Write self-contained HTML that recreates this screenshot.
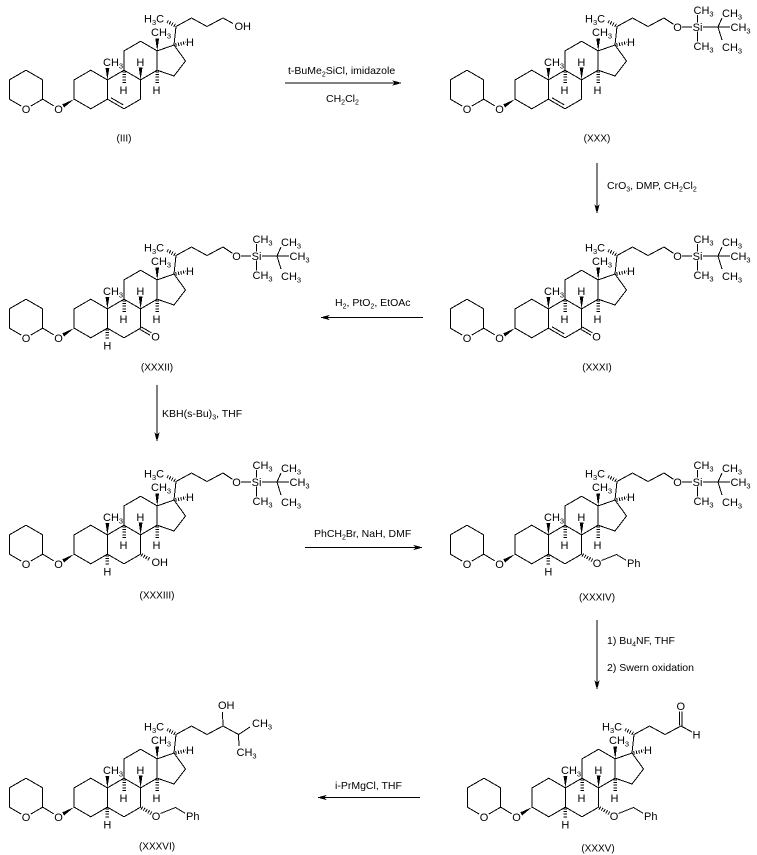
<!DOCTYPE html>
<html>
<head>
<meta charset="utf-8">
<style>
html,body{margin:0;padding:0;background:#fff;}
svg{display:block;}
text{font-family:"Liberation Sans",Arial,sans-serif;font-size:11px;fill:#000;}
text.lbl{font-size:10px;}
text.rg{font-size:10.5px;}
</style>
</head>
<body>
<svg width="757" height="855" viewBox="0 0 757 855" xmlns="http://www.w3.org/2000/svg" shape-rendering="crispEdges">
<defs>
  <g id="core">
    <g fill="none" stroke="#000" stroke-width="1">
      <polyline points="21.2,106.05 9.3,99.15 9.3,79.85 26,70.2 42.7,79.85 42.7,99.15 30.8,106.05"/>
      <line x1="42.7" y1="99.15" x2="53.8" y2="105.9"/>
      <polygon points="74.2,79.85 90.8,70.2 107.4,79.85 107.4,99.15 90.8,108.8 74.2,99.15"/>
      <polyline points="107.4,79.85 124,70.2 140.6,79.85 140.6,99.15 124,108.8 107.4,99.15"/>
      <polyline points="124,70.2 124,50.9 140.6,41.25 157.2,50.9 157.2,70.2 140.6,79.85"/>
      <polyline points="157.2,50.9 174,45 185.5,61 174,76 157.2,70.2"/>
      <polyline points="174,45 176,26.5 191.5,18 207,26.5 223,18"/>
    </g>
    <g fill="none" stroke="#000" stroke-width="3.5" stroke-dasharray="1 1.6">
      <line x1="175" y1="25.5" x2="166" y2="20.8"/>
      <line x1="175.5" y1="44.8" x2="186" y2="42.6"/>
      <line x1="124" y1="71.5" x2="124" y2="84.5"/>
      <line x1="157.2" y1="71.5" x2="157.2" y2="84.5"/>
    </g>
    <g fill="#000" stroke="none">
      <polygon points="74.2,99.15 64.14,107.43 62.26,104.37"/>
      <polygon points="107.4,79.85 105.5,68 109.3,68"/>
      <polygon points="157.2,50.9 155.3,38.5 159.1,38.5"/>
      <polygon points="140.6,79.85 138.7,67.5 142.5,67.5"/>
    </g>
  </g>
  <g id="tbsl" fill="none" stroke="#000" stroke-width="1">
    <line x1="223" y1="18" x2="232.3" y2="24.2"/>
    <line x1="241" y1="27" x2="251" y2="27"/>
    <line x1="256.5" y1="22.5" x2="256.5" y2="15"/>
    <line x1="256.5" y1="31.5" x2="256.5" y2="41.5"/>
    <line x1="262" y1="27" x2="289" y2="27"/>
    <line x1="277" y1="27" x2="281" y2="18"/>
    <line x1="277" y1="27" x2="281" y2="40"/>
  </g>
  <g id="d5" fill="none" stroke="#000" stroke-width="1">
    <line x1="111.06" y1="97.81" x2="123.34" y2="104.94"/>
  </g>
  <g id="keto" fill="none" stroke="#000" stroke-width="1">
    <line x1="141.3" y1="97.95" x2="151.4" y2="103.8"/>
    <line x1="139.9" y1="100.35" x2="150" y2="106.2"/>
  </g>
  <g id="h5a" fill="none" stroke="#000" stroke-width="3.5" stroke-dasharray="1 1.6">
    <line x1="107.4" y1="100.5" x2="107.4" y2="111"/>
  </g>
  <g id="obn">
    <line x1="141.5" y1="99.7" x2="151.5" y2="105.4" fill="none" stroke="#000" stroke-width="3.5" stroke-dasharray="1 1.6"/>
    <polyline points="160.5,105.5 175.5,99.5 185,105.2" fill="none" stroke="#000" stroke-width="1"/>
  </g>
</defs>

<!-- ===== (III) ===== -->
<g transform="translate(0,0)">
  <use href="#core"/>
  <use href="#d5"/>
  <line x1="223" y1="18" x2="233" y2="23.5" stroke="#000" stroke-width="1"/>
  <text x="26" y="112.8" text-anchor="middle">O</text>
  <text x="58.5" y="112.8" text-anchor="middle">O</text>
  <text x="103" y="66">CH<tspan font-size="7.5" dy="2.5">3</tspan></text>
  <text x="123.5" y="94" text-anchor="middle">H</text>
  <text x="140.4" y="66" text-anchor="middle">H</text>
  <text x="156.5" y="94" text-anchor="middle">H</text>
  <text x="151" y="36">CH<tspan font-size="7.5" dy="2.5">3</tspan></text>
  <text x="190" y="46" text-anchor="middle">H</text>
  <text x="144" y="22.5">H<tspan font-size="7.5" dy="2.5">3</tspan><tspan dy="-2.5">C</tspan></text>
  <text x="234.5" y="30">OH</text>
</g>
<text class="lbl" x="124" y="141.6" text-anchor="middle">(III)</text>

<!-- ===== (XXX) ===== -->
<g transform="translate(441,0)">
  <use href="#core"/>
  <use href="#d5"/>
  <use href="#tbsl"/>
  <text x="26" y="112.8" text-anchor="middle">O</text>
  <text x="58.5" y="112.8" text-anchor="middle">O</text>
  <text x="103" y="66">CH<tspan font-size="7.5" dy="2.5">3</tspan></text>
  <text x="123.5" y="94" text-anchor="middle">H</text>
  <text x="140.4" y="66" text-anchor="middle">H</text>
  <text x="156.5" y="94" text-anchor="middle">H</text>
  <text x="151" y="36">CH<tspan font-size="7.5" dy="2.5">3</tspan></text>
  <text x="190" y="46" text-anchor="middle">H</text>
  <text x="144" y="22.5">H<tspan font-size="7.5" dy="2.5">3</tspan><tspan dy="-2.5">C</tspan></text>
  <text x="236.5" y="31" text-anchor="middle">O</text>
  <text x="256.5" y="31" text-anchor="middle">Si</text>
  <text x="252.5" y="14">CH<tspan font-size="7.5" dy="2.5">3</tspan></text>
  <text x="252.5" y="50">CH<tspan font-size="7.5" dy="2.5">3</tspan></text>
  <text x="289.5" y="31">CH<tspan font-size="7.5" dy="2.5">3</tspan></text>
  <text x="281" y="17">CH<tspan font-size="7.5" dy="2.5">3</tspan></text>
  <text x="281" y="51">CH<tspan font-size="7.5" dy="2.5">3</tspan></text>
</g>
<text class="lbl" x="597" y="141.6" text-anchor="middle">(XXX)</text>

<!-- ===== (XXXII) ===== -->
<g transform="translate(0,229)">
  <use href="#core"/>
  <use href="#keto"/>
  <use href="#h5a"/>
  <use href="#tbsl"/>
  <text x="26" y="112.8" text-anchor="middle">O</text>
  <text x="58.5" y="112.8" text-anchor="middle">O</text>
  <text x="103" y="66">CH<tspan font-size="7.5" dy="2.5">3</tspan></text>
  <text x="123.5" y="94" text-anchor="middle">H</text>
  <text x="140.4" y="66" text-anchor="middle">H</text>
  <text x="156.5" y="94" text-anchor="middle">H</text>
  <text x="151" y="36">CH<tspan font-size="7.5" dy="2.5">3</tspan></text>
  <text x="190" y="46" text-anchor="middle">H</text>
  <text x="144" y="22.5">H<tspan font-size="7.5" dy="2.5">3</tspan><tspan dy="-2.5">C</tspan></text>
  <text x="155.5" y="111.5" text-anchor="middle">O</text>
  <text x="107.4" y="120.5" text-anchor="middle">H</text>
  <text x="236.5" y="31" text-anchor="middle">O</text>
  <text x="256.5" y="31" text-anchor="middle">Si</text>
  <text x="252.5" y="14">CH<tspan font-size="7.5" dy="2.5">3</tspan></text>
  <text x="252.5" y="50">CH<tspan font-size="7.5" dy="2.5">3</tspan></text>
  <text x="289.5" y="31">CH<tspan font-size="7.5" dy="2.5">3</tspan></text>
  <text x="281" y="17">CH<tspan font-size="7.5" dy="2.5">3</tspan></text>
  <text x="281" y="51">CH<tspan font-size="7.5" dy="2.5">3</tspan></text>
</g>
<text class="lbl" x="157" y="370.6" text-anchor="middle">(XXXII)</text>

<!-- ===== (XXXI) ===== -->
<g transform="translate(441,229)">
  <use href="#core"/>
  <use href="#d5"/>
  <use href="#keto"/>
  <use href="#tbsl"/>
  <text x="26" y="112.8" text-anchor="middle">O</text>
  <text x="58.5" y="112.8" text-anchor="middle">O</text>
  <text x="103" y="66">CH<tspan font-size="7.5" dy="2.5">3</tspan></text>
  <text x="123.5" y="94" text-anchor="middle">H</text>
  <text x="140.4" y="66" text-anchor="middle">H</text>
  <text x="156.5" y="94" text-anchor="middle">H</text>
  <text x="151" y="36">CH<tspan font-size="7.5" dy="2.5">3</tspan></text>
  <text x="190" y="46" text-anchor="middle">H</text>
  <text x="144" y="22.5">H<tspan font-size="7.5" dy="2.5">3</tspan><tspan dy="-2.5">C</tspan></text>
  <text x="155.5" y="111.5" text-anchor="middle">O</text>
  <text x="236.5" y="31" text-anchor="middle">O</text>
  <text x="256.5" y="31" text-anchor="middle">Si</text>
  <text x="252.5" y="14">CH<tspan font-size="7.5" dy="2.5">3</tspan></text>
  <text x="252.5" y="50">CH<tspan font-size="7.5" dy="2.5">3</tspan></text>
  <text x="289.5" y="31">CH<tspan font-size="7.5" dy="2.5">3</tspan></text>
  <text x="281" y="17">CH<tspan font-size="7.5" dy="2.5">3</tspan></text>
  <text x="281" y="51">CH<tspan font-size="7.5" dy="2.5">3</tspan></text>
</g>
<text class="lbl" x="597" y="370.6" text-anchor="middle">(XXXI)</text>

<!-- ===== (XXXIII) ===== -->
<g transform="translate(0,455)">
  <use href="#core"/>
  <use href="#h5a"/>
  <use href="#tbsl"/>
  <line x1="141.5" y1="99.7" x2="150.5" y2="104.9" stroke="#000" stroke-width="3.5" stroke-dasharray="1 1.6"/>
  <text x="26" y="112.8" text-anchor="middle">O</text>
  <text x="58.5" y="112.8" text-anchor="middle">O</text>
  <text x="103" y="66">CH<tspan font-size="7.5" dy="2.5">3</tspan></text>
  <text x="123.5" y="94" text-anchor="middle">H</text>
  <text x="140.4" y="66" text-anchor="middle">H</text>
  <text x="156.5" y="94" text-anchor="middle">H</text>
  <text x="151" y="36">CH<tspan font-size="7.5" dy="2.5">3</tspan></text>
  <text x="190" y="46" text-anchor="middle">H</text>
  <text x="144" y="22.5">H<tspan font-size="7.5" dy="2.5">3</tspan><tspan dy="-2.5">C</tspan></text>
  <text x="151.5" y="111">OH</text>
  <text x="107.4" y="120.5" text-anchor="middle">H</text>
  <text x="236.5" y="31" text-anchor="middle">O</text>
  <text x="256.5" y="31" text-anchor="middle">Si</text>
  <text x="252.5" y="14">CH<tspan font-size="7.5" dy="2.5">3</tspan></text>
  <text x="252.5" y="50">CH<tspan font-size="7.5" dy="2.5">3</tspan></text>
  <text x="289.5" y="31">CH<tspan font-size="7.5" dy="2.5">3</tspan></text>
  <text x="281" y="17">CH<tspan font-size="7.5" dy="2.5">3</tspan></text>
  <text x="281" y="51">CH<tspan font-size="7.5" dy="2.5">3</tspan></text>
</g>
<text class="lbl" x="157" y="598.6" text-anchor="middle">(XXXIII)</text>

<!-- ===== (XXXIV) ===== -->
<g transform="translate(441,455)">
  <use href="#core"/>
  <use href="#h5a"/>
  <use href="#tbsl"/>
  <use href="#obn"/>
  <text x="26" y="112.8" text-anchor="middle">O</text>
  <text x="58.5" y="112.8" text-anchor="middle">O</text>
  <text x="103" y="66">CH<tspan font-size="7.5" dy="2.5">3</tspan></text>
  <text x="123.5" y="94" text-anchor="middle">H</text>
  <text x="140.4" y="66" text-anchor="middle">H</text>
  <text x="156.5" y="94" text-anchor="middle">H</text>
  <text x="151" y="36">CH<tspan font-size="7.5" dy="2.5">3</tspan></text>
  <text x="190" y="46" text-anchor="middle">H</text>
  <text x="144" y="22.5">H<tspan font-size="7.5" dy="2.5">3</tspan><tspan dy="-2.5">C</tspan></text>
  <text x="156" y="112" text-anchor="middle">O</text>
  <text x="186" y="112">Ph</text>
  <text x="107.4" y="120.5" text-anchor="middle">H</text>
  <text x="236.5" y="31" text-anchor="middle">O</text>
  <text x="256.5" y="31" text-anchor="middle">Si</text>
  <text x="252.5" y="14">CH<tspan font-size="7.5" dy="2.5">3</tspan></text>
  <text x="252.5" y="50">CH<tspan font-size="7.5" dy="2.5">3</tspan></text>
  <text x="289.5" y="31">CH<tspan font-size="7.5" dy="2.5">3</tspan></text>
  <text x="281" y="17">CH<tspan font-size="7.5" dy="2.5">3</tspan></text>
  <text x="281" y="51">CH<tspan font-size="7.5" dy="2.5">3</tspan></text>
</g>
<text class="lbl" x="597" y="600.6" text-anchor="middle">(XXXIV)</text>

<!-- ===== (XXXVI) ===== -->
<g transform="translate(0,708)">
  <use href="#core"/>
  <use href="#h5a"/>
  <use href="#obn"/>
  <g fill="none" stroke="#000" stroke-width="1">
    <line x1="223" y1="18" x2="222.5" y2="4"/>
    <polyline points="223,18 238.5,26.5 250,19"/>
    <line x1="238.5" y1="26.5" x2="239" y2="38"/>
  </g>
  <text x="26" y="112.8" text-anchor="middle">O</text>
  <text x="58.5" y="112.8" text-anchor="middle">O</text>
  <text x="103" y="66">CH<tspan font-size="7.5" dy="2.5">3</tspan></text>
  <text x="123.5" y="94" text-anchor="middle">H</text>
  <text x="140.4" y="66" text-anchor="middle">H</text>
  <text x="156.5" y="94" text-anchor="middle">H</text>
  <text x="151" y="36">CH<tspan font-size="7.5" dy="2.5">3</tspan></text>
  <text x="190" y="46" text-anchor="middle">H</text>
  <text x="144" y="22.5">H<tspan font-size="7.5" dy="2.5">3</tspan><tspan dy="-2.5">C</tspan></text>
  <text x="156" y="112" text-anchor="middle">O</text>
  <text x="186" y="112">Ph</text>
  <text x="107.4" y="120.5" text-anchor="middle">H</text>
  <text x="218" y="1.2">OH</text>
  <text x="252" y="19">CH<tspan font-size="7.5" dy="2.5">3</tspan></text>
  <text x="236.5" y="48">CH<tspan font-size="7.5" dy="2.5">3</tspan></text>
</g>
<text class="lbl" x="157" y="849.6" text-anchor="middle">(XXXVI)</text>

<!-- ===== (XXXV) ===== -->
<g transform="translate(458,708)">
  <use href="#core"/>
  <use href="#h5a"/>
  <use href="#obn"/>
  <g fill="none" stroke="#000" stroke-width="1">
    <line x1="221.5" y1="17.5" x2="221.5" y2="3.5"/>
    <line x1="224.2" y1="18.5" x2="224.2" y2="3.5"/>
    <line x1="223" y1="18" x2="234" y2="24"/>
  </g>
  <text x="26" y="112.8" text-anchor="middle">O</text>
  <text x="58.5" y="112.8" text-anchor="middle">O</text>
  <text x="103" y="66">CH<tspan font-size="7.5" dy="2.5">3</tspan></text>
  <text x="123.5" y="94" text-anchor="middle">H</text>
  <text x="140.4" y="66" text-anchor="middle">H</text>
  <text x="156.5" y="94" text-anchor="middle">H</text>
  <text x="151" y="36">CH<tspan font-size="7.5" dy="2.5">3</tspan></text>
  <text x="190" y="46" text-anchor="middle">H</text>
  <text x="144" y="22.5">H<tspan font-size="7.5" dy="2.5">3</tspan><tspan dy="-2.5">C</tspan></text>
  <text x="156" y="112" text-anchor="middle">O</text>
  <text x="186" y="112">Ph</text>
  <text x="107.4" y="120.5" text-anchor="middle">H</text>
  <text x="222.8" y="2" text-anchor="middle">O</text>
  <text x="238.5" y="30.5" text-anchor="middle">H</text>
</g>
<text class="lbl" x="598" y="851.6" text-anchor="middle">(XXXV)</text>

<!-- ===== Arrows ===== -->
<g stroke="#000" stroke-width="1" fill="none">
  <line x1="285" y1="83" x2="396" y2="83"/>
  <line x1="597" y1="163" x2="597" y2="208"/>
  <line x1="423" y1="317.5" x2="326" y2="317.5"/>
  <line x1="157" y1="385" x2="157" y2="436"/>
  <line x1="305" y1="547.5" x2="417" y2="547.5"/>
  <line x1="597" y1="620" x2="597" y2="684"/>
  <line x1="420" y1="797.5" x2="323" y2="797.5"/>
</g>
<g fill="#000" stroke="none">
  <polygon points="402,83 392,80.3 395,83 392,85.7"/>
  <polygon points="597,214 594.3,204 597,207 599.7,204"/>
  <polygon points="320,317.5 330,314.8 327,317.5 330,320.2"/>
  <polygon points="157,442 154.3,432 157,435 159.7,432"/>
  <polygon points="423,547.5 413,544.8 416,547.5 413,550.2"/>
  <polygon points="597,690 594.3,680 597,683 599.7,680"/>
  <polygon points="317,797.5 327,794.8 324,797.5 327,800.2"/>
</g>

<!-- ===== Reagents ===== -->
<text class="rg" x="288" y="73.8">t-BuMe<tspan font-size="7" dy="2.5">2</tspan><tspan dy="-2.5">SiCl, imidazole</tspan></text>
<text class="rg" x="326" y="101.8">CH<tspan font-size="7" dy="2.5">2</tspan><tspan dy="-2.5">Cl</tspan><tspan font-size="7" dy="2.5">2</tspan></text>
<text class="rg" x="607" y="188.8">CrO<tspan font-size="7" dy="2.5">3</tspan><tspan dy="-2.5">, DMP, CH</tspan><tspan font-size="7" dy="2.5">2</tspan><tspan dy="-2.5">Cl</tspan><tspan font-size="7" dy="2.5">2</tspan></text>
<text class="rg" x="335" y="305.8">H<tspan font-size="7" dy="2.5">2</tspan><tspan dy="-2.5">, PtO</tspan><tspan font-size="7" dy="2.5">2</tspan><tspan dy="-2.5">, EtOAc</tspan></text>
<text class="rg" x="162" y="416.8">KBH(s-Bu)<tspan font-size="7" dy="2.5">3</tspan><tspan dy="-2.5">, THF</tspan></text>
<text class="rg" x="314" y="536.8">PhCH<tspan font-size="7" dy="2.5">2</tspan><tspan dy="-2.5">Br, NaH, DMF</tspan></text>
<text class="rg" x="607" y="643.8">1) Bu<tspan font-size="7" dy="2.5">4</tspan><tspan dy="-2.5">NF, THF</tspan></text>
<text class="rg" x="607" y="670.8">2) Swern oxidation</text>
<text class="rg" x="335" y="788.8">i-PrMgCl, THF</text>
</svg>
</body>
</html>
